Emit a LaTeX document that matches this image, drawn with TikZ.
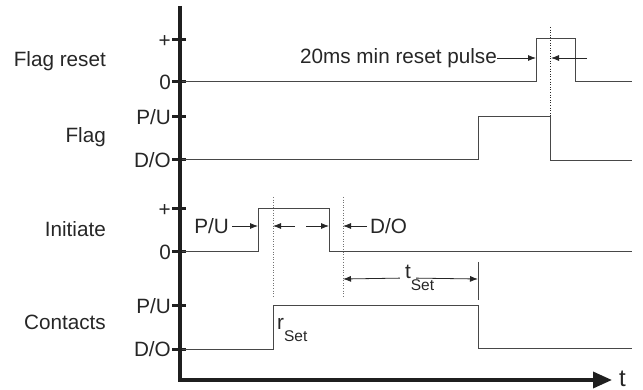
\documentclass[tikz,border=0pt]{standalone}
\usepackage{fontspec}
\setmainfont{Liberation Sans}
\usetikzlibrary{arrows.meta}
\newcommand{\subtext}[1]{\rlap{\raisebox{-12pt}{\fontsize{15.5}{18}\selectfont #1}}}
\tikzset{
	axisline/.style={line width=3.5pt, color=black!88, line join=miter},
	tickmark/.style={line width=3pt, color=black!88},
	wave/.style={line width=1pt, color=black!72},
	guide/.style={line width=0.9pt, color=black!55, dash pattern=on 1pt off 1.6pt},
	dimarrow/.style={line width=0.8pt, color=black!85, -{Latex[length=8pt,width=6pt]}},
	ticklabel/.style={anchor=base east, inner sep=1pt, text=black!85},
	rowlabel/.style={anchor=base east, inner sep=0pt, text=black!85},
	dimlabel/.style={inner sep=3pt, text=black!85},
}
\begin{document}
\begin{tikzpicture}[x=1pt, y=-1pt, font=\fontsize{20.7}{25}\selectfont]
			%%%%% START %%%%%
			\useasboundingbox (0, 0) rectangle (643, 390);
			
			% axes
			\draw[axisline, -{Triangle[length=19pt,width=16pt]}] (180, 6) -- (180, 380) -- (612, 380);
			\node[anchor=west, inner sep=0pt, text=black!85, font=\fontsize{24}{28}\selectfont] (taxis) at (619, 379) {t};
			
			% ticks and levels
			\foreach \y/\lab [count=\i] in {40/+, 82/0, 117/{P/U}, 160/{D/O}, 209/+, 252/0, 306/{P/U}, 349/{D/O}}{
				\draw[tickmark] (172, \y) -- (186, \y);
				\node[ticklabel] (tick\i) at (172, \y+7.4) {\lab};
			}
			
			% row names
			\node[rowlabel] (flagreset) at (106, 67) {Flag reset};
			\node[rowlabel] (flag) at (106, 143) {Flag};
			\node[rowlabel] (initiate) at (106, 237) {Initiate};
			\node[rowlabel] (contacts) at (106, 330) {Contacts};
			
			% waveforms
			\draw[wave] (182, 82) -- (536, 82) -- (536, 39) -- (575, 39) -- (575, 82) -- (632, 82);
			\draw[wave] (182, 160) -- (478, 160) -- (478, 117) -- (550, 117) -- (550, 161) -- (632, 161);
			\draw[wave] (182, 252) -- (258, 252) -- (258, 209) -- (329, 209) -- (329, 252) -- (632, 252);
			\draw[wave] (182, 349) -- (273, 349) -- (273, 306) -- (478, 306) -- (478, 348) -- (632, 348);
			
			% guide lines
			\draw[guide, color=black!85] (550, 27) -- (550, 117);
			\draw[guide] (273, 197) -- (273, 298);
			\draw[guide] (343, 197) -- (343, 298);
			\draw[wave] (478, 262) -- (478, 300);
			
			% reset pulse width
			\coordinate (pulserise) at (536, 58);
			\coordinate (pulseguide) at (551, 58);
			\coordinate (pulsefrom) at (587, 58);
			\node[dimlabel, anchor=east, inner sep=0pt] (pulse) at (497, 58) {20ms min reset pulse};
			\draw[dimarrow] (pulse) -- (pulserise);
			\draw[dimarrow] (pulsefrom) -- (pulseguide);
			
			% initiate pick-up / drop-off
			\coordinate (initrise) at (258, 226);
			\coordinate (initgdA) at (273, 226);
			\coordinate (initfromA) at (295, 226);
			\coordinate (initfromB) at (306, 226);
			\coordinate (initfall) at (329, 226);
			\coordinate (initgdB) at (343, 226);
			\node[dimlabel, anchor=east] (initpu) at (232, 226) {P/U};
			\node[dimlabel, anchor=west] (initdo) at (367, 226) {D/O};
			\draw[dimarrow] (initpu) -- (initrise);
			\draw[dimarrow] (initfromA) -- (initgdA);
			\draw[dimarrow] (initfromB) -- (initfall);
			\draw[dimarrow] (initdo) -- (initgdB);
			
			% reset and set times
			\coordinate (tsetleft) at (343, 279);
			\coordinate (tsetright) at (478, 279);
			\node[dimlabel, inner sep=5pt] (tset) at (408, 278) {t\subtext{Set}};
			\draw[dimarrow] (tset) -- (tsetleft);
			\draw[dimarrow] (tset) -- (tsetright);
			\node[dimlabel, anchor=base west, inner sep=1pt] (rset) at (276, 330) {r\subtext{Set}};
			
			%%%%% END %%%%%
\end{tikzpicture}
\end{document}
